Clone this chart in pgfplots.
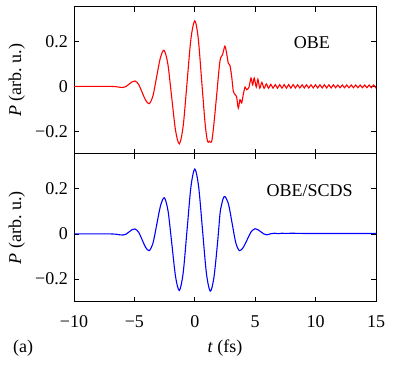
\documentclass[border=0pt]{standalone}
\usepackage{fontspec}
\setmainfont{Liberation Serif}
\usepackage{pgfplots}
\pgfplotsset{compat=1.18}

\pgfplotsset{
  panel/.style={
    scale only axis, width=302bp,
    xmin=-10, xmax=15, ymin=-0.3, ymax=0.355,
    xtick={-10,-5,0,5,10,15},
    ytick={-0.2,0,0.2}, yticklabels={−0.2,0,0.2},
    tick align=inside, major tick length=5bp,
    axis line style={line width=0.8bp},
    every tick/.style={black, line width=0.8bp},
    ylabel={\textit{P} (arb.\ u.)},
    ylabel style={yshift=-2bp},
    clip=true,
  },
}

\begin{document}
\fontsize{18bp}{21bp}\selectfont
\begin{tikzpicture}
% upper panel: OBE
\begin{axis}[panel, height=147bp, anchor=south west, at={(0,0)}, xticklabels={}]
\addplot[red, line width=1.1bp, smooth, tension=0.5] coordinates {
  (-10,0) (-8,0) (-7,0) (-6.5,-0.0015) (-6.2,-0.004) (-5.95,-0.005)
  (-5.7,-0.0008) (-5.45,0.0095) (-5.2,0.0198) (-4.95,0.024)
  (-4.655,0.0092) (-4.36,-0.0265) (-4.065,-0.0622) (-3.77,-0.077)
  (-3.465,-0.0421) (-3.16,0.042) (-2.855,0.1261) (-2.55,0.161)
  (-2.2325,0.0999) (-1.915,-0.0475) (-1.5975,-0.1949) (-1.28,-0.256)
  (-0.96,-0.1757) (-0.64,0.018) (-0.32,0.2117) (0,0.292)
  (0.2875,0.2126) (0.575,0.021) (0.8625,-0.1706)
  (1.06,-0.246) (1.2,-0.244) (1.38,-0.248)
  (1.53,-0.194) (1.8,-0.045) (2.03,0.089) (2.14,0.127) (2.3,0.142)
  (2.49,0.179) (2.63,0.149) (2.77,0.104) (2.91,0.093) (3.05,0.045)
  (3.19,-0.022) (3.35,-0.037) (3.46,-0.046) (3.6,-0.097) (3.74,-0.059)
  (3.88,-0.074) (4.01,-0.037) (4.16,-0.003) (4.29,-0.015) (4.49,-0.003)
  (4.65,0.037) (4.79,0.007) (4.92,0.037) (5.09,-0.003) (5.22,0.032)
  (5.38,-0.008)
  (5.55,0.018) (5.735,-0.009) (5.92,0.011) (6.105,-0.008) (6.29,0.009)
  (6.475,-0.008) (6.66,0.008) (6.845,-0.008) (7.03,0.008) (7.215,-0.008)
  (7.40,0.008) (7.585,-0.008) (7.77,0.008) (7.955,-0.008) (8.14,0.008)
  (8.325,-0.007) (8.51,0.007) (8.695,-0.007) (8.88,0.007) (9.065,-0.007)
  (9.25,0.007) (9.435,-0.007) (9.62,0.007) (9.805,-0.007) (9.99,0.007)
  (10.175,-0.007) (10.36,0.007) (10.545,-0.007) (10.73,0.007) (10.915,-0.007)
  (11.10,0.007) (11.285,-0.007) (11.47,0.007) (11.655,-0.006) (11.84,0.006)
  (12.025,-0.006) (12.21,0.006) (12.395,-0.006) (12.58,0.006) (12.765,-0.006)
  (12.95,0.006) (13.135,-0.006) (13.32,0.006) (13.505,-0.006) (13.69,0.006)
  (13.875,-0.006) (14.06,0.006) (14.245,-0.006) (14.43,0.006) (14.615,-0.006)
  (14.80,0.006) (14.985,-0.006) (15,-0.005)
};
\node[anchor=base] at (axis cs:9.7,0.167) {OBE};
\end{axis}
% lower panel: OBE/SCDS
\begin{axis}[panel, height=148bp, anchor=north west, at={(0,0)},
  xticklabels={−10,−5,0,5,10,15},
  xticklabel style={yshift=-8bp},
  xlabel={\textit{t} (fs)},
  xlabel style={name=xl}]
\addplot[blue, line width=1.1bp, smooth, tension=0.5] coordinates {
  (-10,0) (-8,0) (-7,0) (-6.5,-0.0015) (-6.2,-0.004) (-5.95,-0.005)
  (-5.7,-0.0013) (-5.45,0.0085) (-5.2,0.0187) (-4.95,0.022)
  (-4.655,0.0079) (-4.36,-0.026) (-4.065,-0.0599) (-3.77,-0.074)
  (-3.4575,-0.0397) (-3.145,0.043) (-2.8325,0.1257) (-2.52,0.16)
  (-2.21,0.0999) (-1.9,-0.045) (-1.59,-0.1899) (-1.28,-0.25)
  (-0.96,-0.1713) (-0.64,0.0185) (-0.32,0.2083) (0,0.287)
  (0.32,0.2079) (0.64,0.017) (0.96,-0.1739) (1.28,-0.253)
  (1.585,-0.1918) (1.89,-0.035) (2.09,0.091) (2.2,0.125) (2.35,0.157)
  (2.5,0.165)
  (2.7975,0.13) (3.095,0.0455) (3.3925,-0.039) (3.69,-0.074)
  (4.0125,-0.0598) (4.335,-0.0255) (4.6575,0.0088) (4.98,0.023)
  (5.22,0.019) (5.465,0.0095) (5.71,0.000) (5.95,-0.004)
  (6.3,0.001) (6.6,0.003) (6.9,0.001) (7.2,0.003) (7.6,0.002)
  (8,0.003) (9,0.002) (10,0.002) (11,0.002) (12,0.002) (13,0.002)
  (14,0.002) (15,0.002)
};
\node[anchor=base] at (axis cs:9.5,0.165) {OBE/SCDS};
\end{axis}
\path (xl.base -| 0,0) ++(-61bp,0) node[anchor=base west, inner sep=0] {(a)};
\pgfresetboundingbox
\path[use as bounding box] (-74bp,-215bp) rectangle (335bp,153.7bp);
\end{tikzpicture}
\end{document}
